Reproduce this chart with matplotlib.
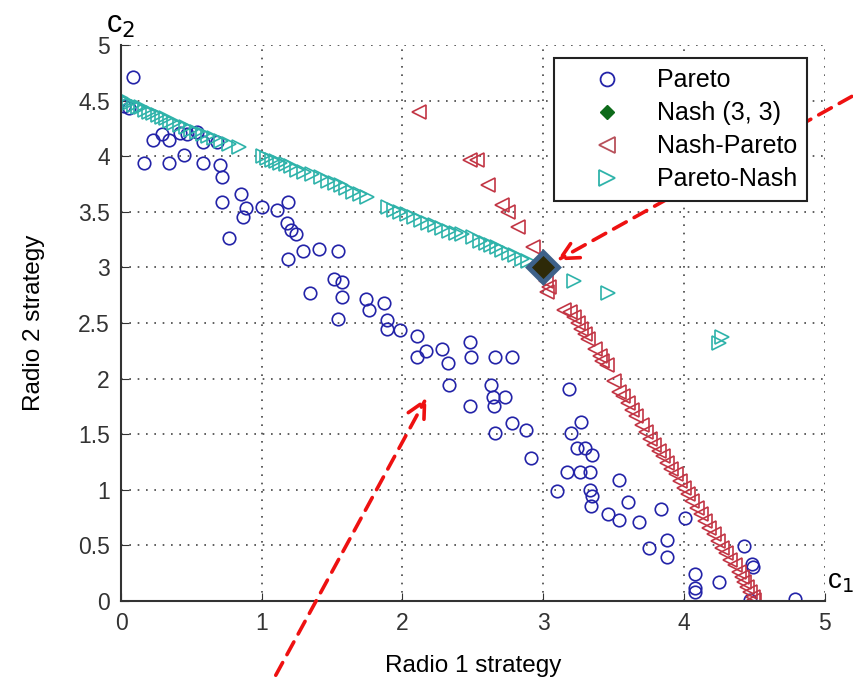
import matplotlib
matplotlib.use('Agg')
import matplotlib.pyplot as plt
from matplotlib.lines import Line2D

plt.rcParams['font.family'] = ['Liberation Sans', 'DejaVu Sans']

# Pareto points (blue circles)
pareto_x = [0.085, 0.02, 0.06, 0.16, 0.23, 0.29, 0.34, 0.34, 0.42, 0.45, 0.47, 0.54,
            0.58, 0.58, 0.68, 0.70, 0.72, 0.72, 0.85, 0.89, 0.87, 1.00, 1.11, 1.19,
            1.18, 1.21, 1.24, 0.77, 1.19, 1.29, 1.41, 1.54, 1.51, 1.57, 1.57, 1.34,
            1.54, 1.74, 1.76, 1.87, 1.89, 1.89, 1.98, 2.10, 2.10, 2.17, 2.28, 2.32,
            2.48, 2.49, 2.66, 2.78, 2.33, 2.63, 2.64, 2.73, 2.65, 2.48, 2.78, 2.88,
            2.66, 2.91, 3.18, 3.27, 3.20, 3.24, 3.30, 3.35, 3.17, 3.26, 3.33, 3.10,
            3.33, 3.35, 3.34, 3.54, 3.60, 3.46, 3.54, 3.68, 3.84, 4.01, 3.75, 3.88,
            3.88, 4.08, 4.08, 4.08, 4.25, 4.43, 4.48, 4.49, 4.47, 4.79]
pareto_y = [4.71, 4.45, 4.43, 3.94, 4.15, 4.20, 4.15, 3.94, 4.21, 4.01, 4.20, 4.22,
            4.13, 3.94, 4.13, 3.92, 3.81, 3.59, 3.66, 3.53, 3.45, 3.54, 3.52, 3.59,
            3.40, 3.34, 3.30, 3.26, 3.08, 3.15, 3.17, 3.15, 2.90, 2.87, 2.73, 2.77,
            2.54, 2.72, 2.62, 2.68, 2.53, 2.45, 2.44, 2.38, 2.19, 2.25, 2.27, 2.14,
            2.33, 2.19, 2.19, 2.19, 1.94, 1.94, 1.83, 1.83, 1.75, 1.75, 1.60, 1.54,
            1.51, 1.29, 1.91, 1.61, 1.51, 1.38, 1.38, 1.31, 1.16, 1.16, 1.16, 0.99,
            1.00, 0.94, 0.85, 1.09, 0.89, 0.78, 0.73, 0.71, 0.83, 0.75, 0.48, 0.55,
            0.40, 0.24, 0.12, 0.08, 0.17, 0.49, 0.33, 0.31, 0.01, 0.02]

# Nash equilibrium
nash_x = [3.0]
nash_y = [3.0]

# Nash-Pareto points (red left triangles)
np_x = [2.12, 2.48, 2.53, 2.61, 2.71, 2.75, 2.82, 2.93,
        3.02, 3.04, 3.03, 3.15, 3.19, 3.22, 3.25, 3.27, 3.30, 3.32, 3.37, 3.40,
        3.42, 3.45, 3.50, 3.54, 3.57, 3.60, 3.63, 3.66, 3.70, 3.73, 3.76, 3.79,
        3.82, 3.85, 3.88, 3.91, 3.94, 3.97, 4.00, 4.03, 4.06, 4.09, 4.12, 4.15,
        4.18, 4.21, 4.24, 4.27, 4.30, 4.33, 4.36, 4.39, 4.41, 4.43, 4.45, 4.47,
        4.49, 4.50]
np_y = [4.40, 3.97, 3.97, 3.74, 3.56, 3.50, 3.36, 3.18,
        2.88, 2.82, 2.78, 2.62, 2.60, 2.55, 2.50, 2.45, 2.40, 2.36, 2.27, 2.20,
        2.16, 2.12, 1.98, 1.88, 1.84, 1.78, 1.72, 1.66, 1.58, 1.52, 1.46, 1.40,
        1.35, 1.30, 1.24, 1.19, 1.14, 1.08, 1.02, 0.96, 0.90, 0.84, 0.78, 0.72,
        0.66, 0.60, 0.54, 0.48, 0.43, 0.37, 0.32, 0.26, 0.22, 0.17, 0.13, 0.08,
        0.04, 0.01]

# Pareto-Nash points (cyan right triangles)
pn_x = [0.00, 0.02, 0.04, 0.06, 0.09, 0.12, 0.14, 0.17, 0.20, 0.23, 0.26, 0.29,
        0.32, 0.35, 0.38, 0.42, 0.46, 0.50, 0.54, 0.58, 0.62, 0.66, 0.71, 0.77,
        0.84,
        1.01, 1.04, 1.07, 1.10, 1.13, 1.17, 1.21, 1.25,
        1.30, 1.36, 1.42, 1.47, 1.52, 1.56, 1.60, 1.65, 1.70, 1.75,
        1.90, 1.94, 1.98, 2.03, 2.08, 2.13, 2.18, 2.23, 2.28, 2.33, 2.38, 2.42,
        2.50, 2.55, 2.59, 2.63, 2.67, 2.71, 2.76, 2.80, 2.85, 2.89,
        3.22, 3.46, 4.27, 4.25]
pn_y = [4.52, 4.50, 4.49, 4.48, 4.46, 4.44, 4.44, 4.42, 4.40, 4.39, 4.37, 4.35,
        4.34, 4.32, 4.30, 4.28, 4.26, 4.24, 4.22, 4.20, 4.18, 4.16, 4.14, 4.11,
        4.08,
        4.00, 3.98, 3.97, 3.96, 3.94, 3.93, 3.91, 3.88,
        3.86, 3.84, 3.81, 3.78, 3.76, 3.74, 3.71, 3.68, 3.66, 3.63,
        3.54, 3.52, 3.50, 3.48, 3.45, 3.43, 3.40, 3.38, 3.35, 3.33, 3.31, 3.30,
        3.27, 3.24, 3.22, 3.20, 3.18, 3.16, 3.13, 3.11, 3.08, 3.06,
        2.88, 2.77, 2.37, 2.32]

BLUE = '#2323a8'
RED = '#c23645'
CYAN = '#2fb3aa'


def main():
  fig = plt.figure(figsize=(8.54, 6.78), dpi=100)
  ax = fig.add_axes([0.1417, 0.1136, 0.824, 0.82])

  ax.plot(pareto_x, pareto_y, 'o', mfc='none', mec=BLUE, ms=9, mew=1.2)
  ax.plot(np_x, np_y, '<', mfc='none', mec=RED, ms=10, mew=1.2)
  ax.plot(pn_x, pn_y, '>', mfc='none', mec=CYAN, ms=10, mew=1.2)
  # highlighted Nash point
  ax.plot(nash_x, nash_y, 'D', mfc='#2e2a08', mec='#3d6189', ms=15, mew=3.5,
          zorder=5)

  ax.set_xlim(0, 5)
  ax.set_ylim(0, 5)
  ax.set_xticks([0, 1, 2, 3, 4, 5])
  ax.set_yticks([0, 0.5, 1, 1.5, 2, 2.5, 3, 3.5, 4, 4.5, 5])
  ax.set_yticklabels(['0', '0.5', '1', '1.5', '2', '2.5', '3', '3.5', '4', '4.5', '5'])
  ax.grid(True, linestyle=(0, (1, 4)), color='#444444', linewidth=1.2)
  ax.tick_params(direction='in', labelsize=16.5, colors='#333333', length=6, pad=8)
  ax.spines['top'].set_visible(False)
  ax.spines['right'].set_visible(False)
  for s in ['left', 'bottom']:
    ax.spines[s].set_color('#333333')
    ax.spines[s].set_linewidth(1.5)

  ax.set_xlabel('Radio 1 strategy', fontsize=17.5, labelpad=14)
  ax.set_ylabel('Radio 2 strategy', fontsize=17.5, labelpad=24)

  handles = [
    Line2D([], [], ls='none', marker='o', mfc='none', mec=BLUE, ms=10, mew=1.3),
    Line2D([], [], ls='none', marker='D', mfc='#0e6b1a', mec='#0e6b1a', ms=7),
    Line2D([], [], ls='none', marker='<', mfc='none', mec='#b8505a', ms=11, mew=1.3),
    Line2D([], [], ls='none', marker='>', mfc='none', mec=CYAN, ms=11, mew=1.3),
  ]
  leg = ax.legend(handles, ['Pareto', 'Nash (3, 3)', 'Nash-Pareto', 'Pareto-Nash'],
                  loc='upper right', bbox_to_anchor=(0.982, 0.985), fontsize=18,
                  fancybox=False, framealpha=1, edgecolor='#222222',
                  handletextpad=0.3, borderpad=0.4, labelspacing=0.36,
                  handlelength=3.4, borderaxespad=0.2)
  leg.get_frame().set_linewidth(1.5)

  # red dashed arrows
  arrow = dict(arrowstyle='->', color='#ee1111', lw=2.6, linestyle=(0, (4, 2.5)),
               mutation_scale=32)
  ax.annotate('', xy=(3.08, 3.05), xytext=(5.21, 4.55), xycoords='data',
              arrowprops=arrow, annotation_clip=False)
  ax.annotate('', xy=(2.18, 1.85), xytext=(1.09, -0.69), xycoords='data',
              arrowprops=arrow, annotation_clip=False)

  fig.text(0.124, 0.952, 'c$_2$', fontsize=22)
  fig.text(0.968, 0.133, 'c$_1$', fontsize=20)

  fig.savefig('out.png', dpi=100)


if __name__ == '__main__':
  main()
